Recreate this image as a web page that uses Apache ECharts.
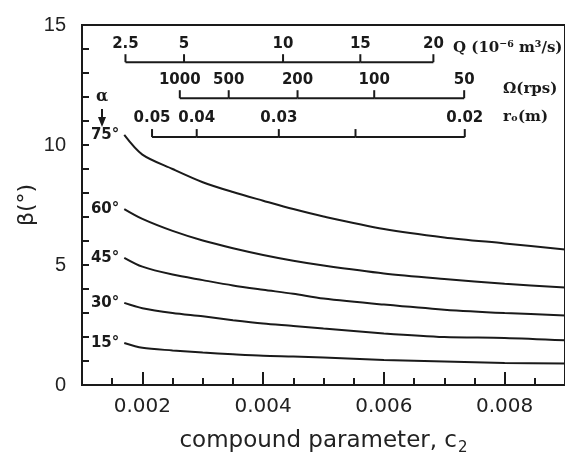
<!DOCTYPE html>
<html>
<head>
<meta charset="utf-8">
<title>beta vs c2</title>
<script src="https://cdn.jsdelivr.net/npm/echarts@6/dist/echarts.min.js"></script>
<style>
  html, body { margin: 0; padding: 0; background: #fff; }
  #chart { width: 565px; height: 463px; }
</style>
</head>
<body>
<div id="chart"></div>
<script>
// compound parameter c2 where the curves were read
var c2 = [0.0017, 0.002, 0.0025, 0.003, 0.0035, 0.004, 0.0045, 0.005, 0.006, 0.007, 0.008, 0.009];

// beta (deg) for each alpha
var alphas = [75, 60, 45, 30, 15];
var beta75 = [10.42, 9.6, 9.0, 8.45, 8.04, 7.68, 7.33, 7.02, 6.5, 6.15, 5.9, 5.65];
var beta60 = [7.33, 6.92, 6.42, 6.02, 5.7, 5.42, 5.18, 4.98, 4.65, 4.42, 4.22, 4.06];
var beta45 = [5.3, 4.93, 4.6, 4.37, 4.15, 3.97, 3.8, 3.6, 3.35, 3.14, 3.0, 2.9];
var beta30 = [3.42, 3.2, 3.0, 2.86, 2.7, 2.56, 2.46, 2.35, 2.15, 2.0, 1.96, 1.86];
var beta15 = [1.75, 1.55, 1.44, 1.35, 1.28, 1.22, 1.19, 1.15, 1.04, 0.98, 0.92, 0.9];
var betas = [beta75, beta60, beta45, beta30, beta15];

// secondary scales, tick labels and the c2 they sit at
var qLabels = ['2.5', '5', '10', '15', '20'];
var qPos = [0.00172, 0.00269, 0.00433, 0.00561, 0.00682];
var omegaLabels = ['1000', '500', '200', '100', '50'];
var omegaPos = [0.00262, 0.00343, 0.00457, 0.00584, 0.00733];
var rLabels = ['0.05', '0.04', '0.03', '', '0.02'];
var rPos = [0.00216, 0.00290, 0.00426, 0.00553, 0.00734];

// tick labels of the main axes
var xLabelValues = [0.002, 0.004, 0.006, 0.008];

var ink = '#1a1a1a';
var myChart = echarts.init(document.getElementById('chart'));

// draws one of the little scales inside the plot (level is in beta units)
function scaleSeries(labels, pos, level) {
    return {
        type: 'custom',
        coordinateSystem: 'cartesian2d',
        xAxisIndex: 0,
        yAxisIndex: 0,
        silent: true,
        clip: false,
        data: pos.map(function (p, i) { return [p, i]; }),
        encode: { x: 0 },
        renderItem: function (params, api) {
            var i = params.dataIndex;
            var pt = api.coord([api.value(0), level]);
            var kids = [{
                type: 'line',
                shape: { x1: pt[0], y1: pt[1], x2: pt[0], y2: pt[1] - 8 },
                style: { stroke: ink, lineWidth: 2 }
            }, {
                type: 'text',
                x: pt[0],
                y: pt[1] - 11,
                style: {
                    text: labels[i],
                    align: 'center',
                    verticalAlign: 'bottom',
                    fill: ink,
                    font: 'bold 15px "DejaVu Sans"'
                }
            }];
            if (i < pos.length - 1) {
                var nx = api.coord([pos[i + 1], level]);
                kids.push({
                    type: 'line',
                    shape: { x1: pt[0], y1: pt[1], x2: nx[0], y2: pt[1] },
                    style: { stroke: ink, lineWidth: 2 }
                });
            }
            return { type: 'group', children: kids };
        }
    };
}

var series = [];
for (var k = 0; k < alphas.length; k++) {
    (function (k) {
        var pts = c2.map(function (x, i) {
            var d = { value: [x, betas[k][i]] };
            if (i == 0) {
                d.label = {
                    show: true,
                    position: 'left',
                    distance: 5,
                    formatter: alphas[k] + '°',
                    color: ink,
                    fontFamily: 'DejaVu Sans',
                    fontWeight: 'bold',
                    fontSize: 15
                };
            }
            return d;
        });
        series.push({
            type: 'line',
            data: pts,
            smooth: 0.3,
            symbol: 'circle',
            symbolSize: 0,
            showAllSymbol: true,
            lineStyle: { color: ink, width: 2 },
            silent: true
        });
    })(k);
}
series.push(scaleSeries(qLabels, qPos, 13.45));
series.push(scaleSeries(omegaLabels, omegaPos, 11.95));
series.push(scaleSeries(rLabels, rPos, 10.33));

myChart.setOption({
    animation: false,
    backgroundColor: '#fff',
    grid: {
        left: 82,
        right: -4,
        top: 25,
        bottom: 78,
        show: true,
        borderColor: ink,
        borderWidth: 2
    },
    xAxis: [{
        type: 'value',
        min: 0.001,
        max: 0.009,
        interval: 0.0005,
        position: 'bottom',
        splitLine: { show: false },
        axisLine: { lineStyle: { color: ink, width: 2 } },
        axisTick: { inside: true, length: 7, lineStyle: { color: ink, width: 2 } },
        axisLabel: {
            customValues: xLabelValues,
            formatter: function (v) { return v.toFixed(3); },
            color: '#222',
            fontFamily: 'DejaVu Sans',
            fontSize: 20,
            margin: 12
        },
        name: 'compound parameter, c{sub|2}',
        nameLocation: 'middle',
        nameGap: 42,
        nameTextStyle: {
            color: '#222',
            fontFamily: 'DejaVu Sans',
            fontSize: 23,
            rich: {
                sub: { fontFamily: 'DejaVu Sans', fontSize: 15, color: '#222', padding: [14, 0, 0, 1] }
            }
        }
    }, {
        type: 'value',
        min: 0.001,
        max: 0.009,
        position: 'bottom',
        splitLine: { show: false },
        axisLine: { show: false },
        axisTick: { inside: true, length: 13, customValues: xLabelValues, lineStyle: { color: ink, width: 2 } },
        axisLabel: { show: false }
    }],
    yAxis: {
        type: 'value',
        min: 0,
        max: 15,
        interval: 5,
        splitLine: { show: false },
        axisLine: { lineStyle: { color: ink, width: 2 } },
        axisTick: { inside: true, length: 7, lineStyle: { color: ink, width: 2 } },
        minorTick: { show: true, splitNumber: 5, length: 7, lineStyle: { color: ink, width: 2 } },
        minorSplitLine: { show: false },
        axisLabel: {
            color: '#222',
            fontFamily: 'Liberation Sans',
            fontSize: 20,
            margin: 16
        },
        name: 'β(°)',
        nameLocation: 'middle',
        nameGap: 44,
        nameMoveOverlap: false,
        nameRotate: 90,
        nameTextStyle: { color: '#222', fontFamily: 'DejaVu Sans', fontSize: 22 }
    },
    graphic: [{
        type: 'text',
        left: 96,
        top: 89,
        style: { text: 'α', fill: ink, font: 'bold 16px "DejaVu Serif"' }
    }, {
        type: 'line',
        shape: { x1: 102, y1: 109, x2: 102, y2: 124 },
        style: { stroke: ink, lineWidth: 2 }
    }, {
        type: 'polygon',
        shape: { points: [[98, 117], [106, 117], [102, 127]] },
        style: { fill: ink }
    }, {
        type: 'text',
        left: 453,
        top: 41,
        style: { text: 'Q (10⁻⁶ m³/s)', fill: ink, font: 'bold 15px "DejaVu Serif"' }
    }, {
        type: 'text',
        left: 503,
        top: 82,
        style: { text: 'Ω(rps)', fill: ink, font: 'bold 15px "DejaVu Serif"' }
    }, {
        type: 'text',
        left: 503,
        top: 110,
        style: { text: 'rₒ(m)', fill: ink, font: 'bold 15px "DejaVu Serif"' }
    }],
    series: series
});
</script>
</body>
</html>
